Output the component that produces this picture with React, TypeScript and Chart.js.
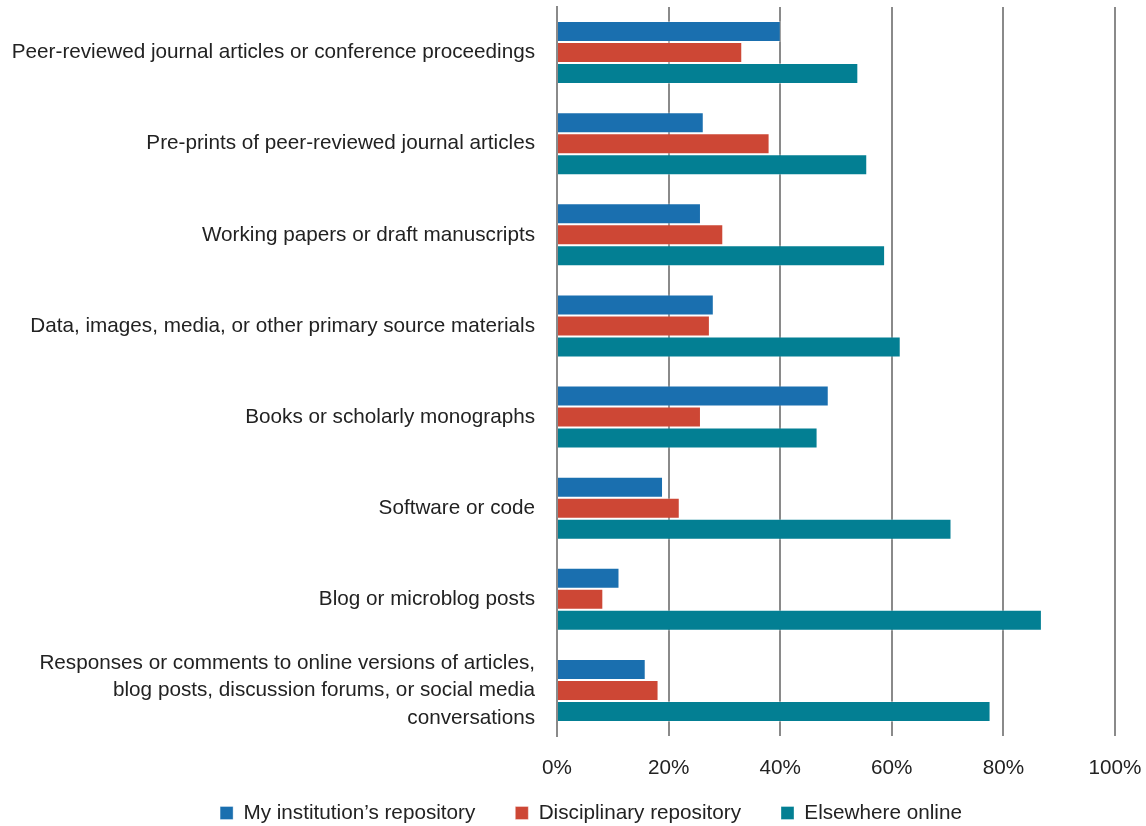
import React, { useEffect, useRef } from "react";
import { Chart, registerables } from "chart.js";

Chart.register(...registerables);

const categories: (string | string[])[] = [
  "Peer-reviewed journal articles or conference proceedings",
  "Pre-prints of peer-reviewed journal articles",
  "Working papers or draft manuscripts",
  "Data, images, media, or other primary source materials",
  "Books or scholarly monographs",
  "Software or code",
  "Blog or microblog posts",
  [
    "Responses or comments to online versions of articles,",
    "blog posts, discussion forums, or social media",
    "conversations",
  ],
];

const institutionValues = [40.1, 26.3, 25.8, 28.1, 48.7, 19.0, 11.2, 15.9];
const disciplinaryValues = [33.2, 38.1, 29.8, 27.4, 25.8, 22.0, 8.3, 18.2];
const elsewhereValues = [54.0, 55.6, 58.8, 61.6, 46.7, 70.7, 86.9, 77.7];

const seriesNames = [
  "My institution\u2019s repository",
  "Disciplinary repository",
  "Elsewhere online",
];

const xTicks = [0, 20, 40, 60, 80, 100];

const FONT = "'Liberation Sans', Arial, sans-serif";
const FS = 20.7;
const LEGEND_PAD = 40;

const legendPlacement = {
  id: "legendPlacement",
  afterLayout(chart: any) {
    const lg = chart.legend;
    if (!lg) return;
    lg.left = 67;
    lg.top = 813 - LEGEND_PAD - FS / 2;
  },
};

export default function App() {
  const ref = useRef<HTMLCanvasElement | null>(null);

  useEffect(() => {
    if (!ref.current) return;
    const chart = new Chart(ref.current, {
      type: "bar",
      data: {
        labels: categories,
        datasets: [
          {
            label: seriesNames[0],
            data: institutionValues,
            backgroundColor: "#1a6faf",
            borderColor: "rgba(255,255,255,0.35)",
            borderWidth: 1,
          },
          {
            label: seriesNames[1],
            data: disciplinaryValues,
            backgroundColor: "#cd4735",
            borderColor: "rgba(255,255,255,0.35)",
            borderWidth: 1,
          },
          {
            label: seriesNames[2],
            data: elsewhereValues,
            backgroundColor: "#037f93",
            borderColor: "rgba(255,255,255,0.35)",
            borderWidth: 1,
          },
        ],
      },
      plugins: [legendPlacement],
      options: {
        indexAxis: "y",
        animation: false,
        responsive: false,
        maintainAspectRatio: false,
        layout: { padding: { top: 7, right: 31, left: 0, bottom: 0 } },
        datasets: {
          bar: { barPercentage: 1, categoryPercentage: 0.69 },
        },
        scales: {
          x: {
            min: 0,
            max: 100,
            afterBuildTicks: (scale: any) => {
              scale.ticks = xTicks.map((v) => ({ value: v }));
            },
            afterFit: (scale: any) => {
              scale.height = 44;
              scale.paddingLeft = 0;
              scale.paddingRight = 0;
            },
            ticks: {
              callback: (v: any) => v + "%",
              color: "#222",
              font: { family: FONT, size: FS },
              padding: 20,
              maxRotation: 0,
            },
            grid: { color: "#8a8a8a", lineWidth: 2, drawTicks: false },
            border: { display: false },
          },
          y: {
            afterFit: (scale: any) => {
              scale.width = 557;
              scale.paddingTop = 0;
              scale.paddingBottom = 0;
            },
            ticks: {
              autoSkip: false,
              color: "#222",
              font: { family: FONT, size: FS, lineHeight: 1.33 },
              padding: 22,
            },
            grid: { display: false, drawTicks: false },
            border: { display: true, color: "#8a8a8a", width: 2 },
          },
        },
        plugins: {
          legend: {
            position: "bottom",
            maxHeight: 46,
            labels: {
              boxWidth: 13,
              boxHeight: 13,
              padding: LEGEND_PAD,
              color: "#222",
              font: { family: FONT, size: FS },
            },
          },
          tooltip: { enabled: false },
        },
      },
    } as any);
    return () => chart.destroy();
  }, []);

  return (
    <div style={{ position: "absolute", left: 0, top: 0, width: 1146, height: 826, background: "#fff" }}>
      <canvas ref={ref} width={1146} height={826} style={{ width: 1146, height: 826 }} />
    </div>
  );
}
